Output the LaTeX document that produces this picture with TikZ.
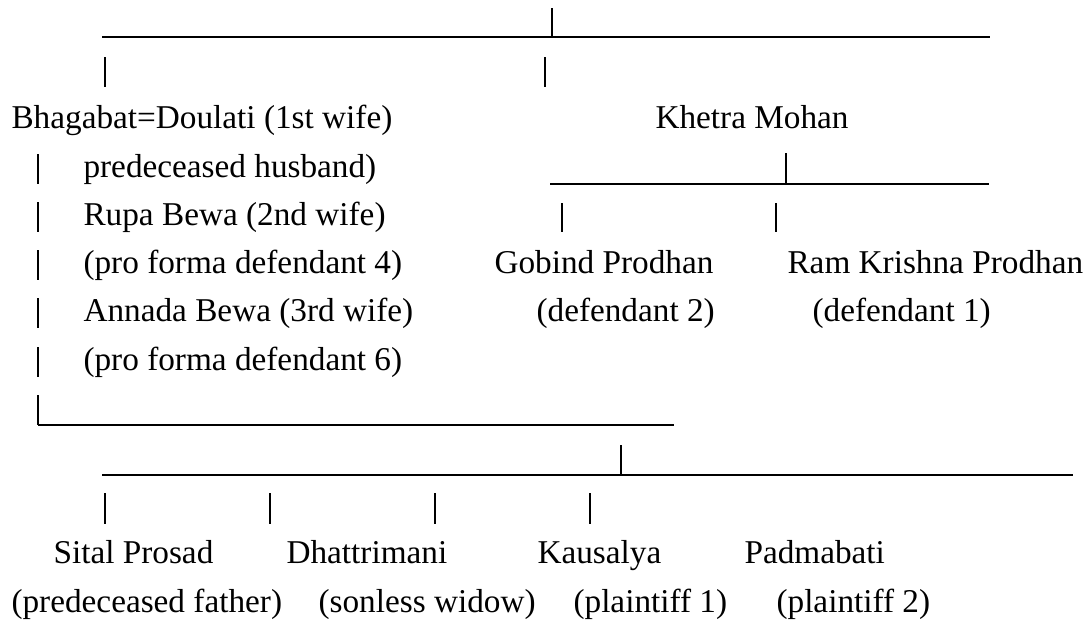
\documentclass[tikz,border=0pt]{standalone}
\usepackage{fontspec}
\setmainfont{Liberation Serif}
\begin{document}
\begin{tikzpicture}[x=0.3728pt,y=-0.3728pt,
    nome/.style={anchor=base west,inner sep=0pt,font=\fontsize{12.4}{14}\selectfont},
    linea/.style={line width=0.55pt}]
  \useasboundingbox (0,0) rectangle (1085,622);
  % nomi
  \node[nome] (bhag)     at (11,128)  {Bhagabat=Doulati (1st wife)};
  \node[nome] (khetra)   at (655,128) {Khetra Mohan};
  \node[nome] (predec)   at (83,177)  {predeceased husband)};
  \node[nome] (rupa)     at (83,225)  {Rupa Bewa (2nd wife)};
  \node[nome] (rupapf)   at (83,273)  {(pro forma defendant 4)};
  \node[nome] (annada)   at (83,321)  {Annada Bewa (3rd wife)};
  \node[nome] (annadapf) at (83,370)  {(pro forma defendant 6)};
  \node[nome] (gobind)   at (494,273) {Gobind Prodhan};
  \node[nome] (ram)      at (787,273) {Ram Krishna Prodhan};
  \node[nome] (gobdef)   at (536,321) {(defendant 2)};
  \node[nome] (ramdef)   at (812,321) {(defendant 1)};
  \node[nome] (sital)    at (53,563)  {Sital Prosad};
  \node[nome] (dhatt)    at (286,563) {Dhattrimani};
  \node[nome] (kaus)     at (537,563) {Kausalya};
  \node[nome] (padma)    at (744,563) {Padmabati};
  \node[nome] (sitaln)   at (11,612)  {(predeceased father)};
  \node[nome] (dhattn)   at (318,612) {(sonless widow)};
  \node[nome] (kausn)    at (573,612) {(plaintiff 1)};
  \node[nome] (padman)   at (776,612) {(plaintiff 2)};
  % linee
  \coordinate (A) at (102,37);  \coordinate (B) at (990,37);
  \coordinate (C) at (552,8);   \coordinate (D) at (552,37);
  \coordinate (E) at (550,184); \coordinate (F) at (989,184);
  \coordinate (G) at (786,153); \coordinate (H) at (786,184);
  \coordinate (I) at (38,425);  \coordinate (J) at (674,425);
  \coordinate (K) at (102,475); \coordinate (L) at (1073,475);
  \coordinate (M) at (621,445); \coordinate (N) at (621,475);
  \draw[linea] (A)--(B) (C)--(D) (E)--(F) (G)--(H)
    (I)--(J) (K)--(L) (M)--(N);
  \foreach \x in {105,545}
    \draw[linea] (\x,57)--(\x,87);
  \foreach \x in {562,776}
    \draw[linea] (\x,203)--(\x,232);
  \foreach \b in {177,225,273,321,370,418}
    \draw[linea] (38,\b-23)--(38,\b+7);
  \foreach \x in {105,270,435,590}
    \draw[linea] (\x,493)--(\x,524);
\end{tikzpicture}
\end{document}
